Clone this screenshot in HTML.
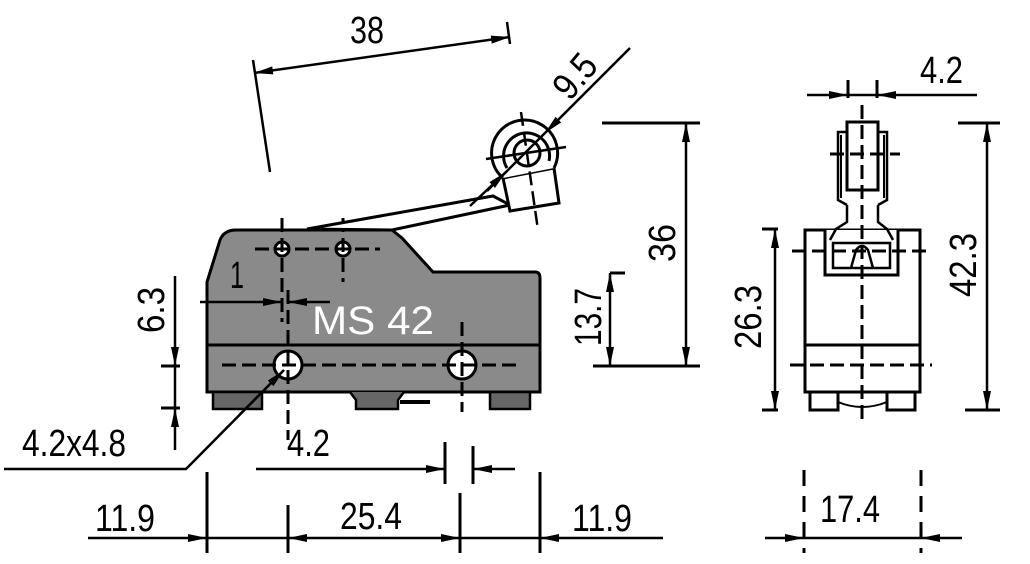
<!DOCTYPE html>
<html><head><meta charset="utf-8"><style>
html,body{margin:0;padding:0;background:#fff;width:1030px;height:564px;overflow:hidden}
svg{display:block}
text{font-family:"Liberation Sans",sans-serif;font-size:38px;fill:#000}
</style></head><body>
<svg width="1030" height="564" viewBox="0 0 1030 564" xmlns="http://www.w3.org/2000/svg">
<defs>
<marker id="a" markerWidth="22" markerHeight="12" refX="19" refY="6" orient="auto-start-reverse" markerUnits="userSpaceOnUse"><path d="M0,2 L19,6 L0,10 Z" fill="#000"/></marker>
</defs>
<g stroke="#000" stroke-width="3" fill="none" stroke-linecap="butt">
<path d="M207,392 L207,282 L220,240 Q224,230 236,230 L392,230 L402,238 L433,272 L535,272 Q540,272 540,278 L540,392 Z" fill="#8a8a8a"/>
<rect x="213" y="392" width="49" height="17" fill="#666" stroke-width="2.5"/>
<path d="M350,392 L356,400 L356,409 L398,409 L398,400 L404,392" fill="#666" stroke-width="2.5"/>
<rect x="490" y="392" width="40" height="17" fill="#666" stroke-width="2.5"/>
<line x1="400" y1="402" x2="430" y2="402" stroke-width="4"/>
<line x1="207" y1="345" x2="540" y2="345"/>
<circle cx="282" cy="249" r="7" fill="#fff"/>
<circle cx="343" cy="249" r="7" fill="#fff"/>
<circle cx="288" cy="365" r="14" fill="#fff"/>
<circle cx="462" cy="365" r="14" fill="#fff"/>
<g stroke-dasharray="14,6">
<line x1="255" y1="249" x2="380" y2="249"/>
<line x1="222" y1="365" x2="522" y2="365"/>
<line x1="282" y1="218" x2="282" y2="322"/>
<line x1="343" y1="218" x2="343" y2="282"/>
<line x1="288" y1="290" x2="288" y2="440"/>
<line x1="462" y1="322" x2="462" y2="412"/>
</g>
<path d="M307,229 L493,196 L510,205 L392,230 Z" fill="#fff" stroke-width="3"/>
<polygon points="503,178 510,211 559,203 554,168" fill="#fff" stroke-width="3"/>
<path d="M503,178 A33,33 0 1 1 554,168" fill="#fff" stroke-width="3"/>
<path d="M507,168 A23,23 0 1 1 549,161" stroke-width="3"/>
<circle cx="527" cy="153" r="13" fill="#fff" stroke-width="3"/>
<line x1="486" y1="159" x2="566" y2="147" stroke-width="2.5"/>
<line x1="521" y1="112" x2="538" y2="230" stroke-width="2.5" stroke-dasharray="14,6"/>
<line x1="630" y1="48" x2="545" y2="133" stroke-width="2.5" marker-end="url(#a)"/>
<line x1="545" y1="133" x2="487" y2="191" stroke-width="2.5"/>
<line x1="470" y1="206" x2="506" y2="172" stroke-width="2.5" marker-end="url(#a)"/>
<line x1="254" y1="73" x2="510" y2="37" stroke-width="2.5" marker-start="url(#a)" marker-end="url(#a)"/>
<line x1="253" y1="60" x2="270" y2="172" stroke-width="2.5"/>
<line x1="507" y1="22" x2="510" y2="44" stroke-width="2.5"/>
<line x1="602" y1="123" x2="700" y2="123"/>
<line x1="593" y1="366" x2="700" y2="366"/>
<line x1="686" y1="123" x2="686" y2="366" stroke-width="2.5" marker-start="url(#a)" marker-end="url(#a)"/>
<line x1="610" y1="273" x2="625" y2="273"/>
<line x1="610" y1="273" x2="610" y2="366" stroke-width="2.5" marker-start="url(#a)" marker-end="url(#a)"/>
<line x1="175" y1="276" x2="175" y2="366" stroke-width="2.5" marker-end="url(#a)"/>
<line x1="175" y1="450" x2="175" y2="408" stroke-width="2.5" marker-end="url(#a)"/>
<line x1="175" y1="366" x2="175" y2="408" stroke-width="2.5"/>
<line x1="161" y1="366" x2="180" y2="366"/>
<line x1="161" y1="408" x2="180" y2="408"/>
<line x1="200" y1="302" x2="282" y2="302" stroke-width="2.5" marker-end="url(#a)"/>
<line x1="330" y1="302" x2="288" y2="302" stroke-width="2.5" marker-end="url(#a)"/>
<polyline points="4,469 186,469 284,370" stroke-width="2.5"/>
<line x1="240" y1="414" x2="284" y2="370" stroke-width="2" marker-end="url(#a)"/>
<line x1="256" y1="469" x2="445" y2="469" stroke-width="2.5" marker-end="url(#a)"/>
<line x1="515" y1="469" x2="473" y2="469" stroke-width="2.5" marker-end="url(#a)"/>
<line x1="445" y1="442" x2="445" y2="484"/>
<line x1="473" y1="446" x2="473" y2="484"/>
<line x1="88" y1="538" x2="207" y2="538" stroke-width="2.5" marker-end="url(#a)"/>
<line x1="207" y1="538" x2="288" y2="538" stroke-width="2.5"/>
<line x1="288" y1="538" x2="460" y2="538" stroke-width="2.5" marker-start="url(#a)" marker-end="url(#a)"/>
<line x1="460" y1="538" x2="540" y2="538" stroke-width="2.5"/>
<line x1="663" y1="538" x2="540" y2="538" stroke-width="2.5" marker-end="url(#a)"/>
<line x1="207" y1="472" x2="207" y2="553"/>
<line x1="288" y1="505" x2="288" y2="553"/>
<line x1="460" y1="493" x2="460" y2="553"/>
<line x1="540" y1="472" x2="540" y2="553"/>
<rect x="805" y="230" width="115" height="162" fill="#fff"/>
<line x1="805" y1="345" x2="920" y2="345"/>
<path d="M825,230 L825,275 L898,275 L898,230" fill="#fff"/>
<path d="M833,243 L833,268 L890,268 L890,243 Z" stroke-width="2.5"/>
<path d="M851,268 L856,250 Q862,242 868,250 L873,268" stroke-width="2.5"/>
<path d="M830,240 L836,229 L847,222 L847,205 M893,240 L887,229 L878,222 L878,205" stroke-width="2.5"/>
<path d="M847,205 L838,200 L838,132 L847,132 M878,205 L887,200 L887,132 L878,132" stroke-width="2.5"/>
<rect x="847" y="122" width="31" height="68" fill="#fff"/>
<line x1="841" y1="135" x2="841" y2="198" stroke-width="2"/>
<line x1="884" y1="135" x2="884" y2="198" stroke-width="2"/>
<rect x="810" y="392" width="28" height="18"/>
<rect x="887" y="392" width="28" height="18"/>
<path d="M838,402 Q862,412 887,402" stroke-width="2"/>
<g stroke-dasharray="14,6">
<line x1="862" y1="105" x2="862" y2="422"/>
<line x1="830" y1="154" x2="900" y2="154"/>
<line x1="792" y1="251" x2="930" y2="251"/>
<line x1="790" y1="365" x2="932" y2="365"/>
</g>
<line x1="807" y1="95" x2="848" y2="95" stroke-width="2.5" marker-end="url(#a)"/>
<line x1="977" y1="95" x2="877" y2="95" stroke-width="2.5" marker-end="url(#a)"/>
<line x1="848" y1="95" x2="877" y2="95" stroke-width="2.5"/>
<line x1="848" y1="80" x2="848" y2="98"/>
<line x1="877" y1="80" x2="877" y2="98"/>
<line x1="958" y1="123" x2="1000" y2="123"/>
<line x1="965" y1="410" x2="1000" y2="410"/>
<line x1="987" y1="123" x2="987" y2="410" stroke-width="2.5" marker-start="url(#a)" marker-end="url(#a)"/>
<line x1="762" y1="229" x2="778" y2="229"/>
<line x1="762" y1="410" x2="778" y2="410"/>
<line x1="775" y1="229" x2="775" y2="410" stroke-width="2.5" marker-start="url(#a)" marker-end="url(#a)"/>
<line x1="765" y1="538" x2="804" y2="538" stroke-width="2.5" marker-end="url(#a)"/>
<line x1="804" y1="538" x2="921" y2="538" stroke-width="2.5"/>
<line x1="962" y1="538" x2="921" y2="538" stroke-width="2.5" marker-end="url(#a)"/>
<g stroke-dasharray="16,10">
<line x1="804" y1="470" x2="804" y2="553"/>
<line x1="921" y1="470" x2="921" y2="553"/>
</g>
</g>
<text x="350" y="43" textLength="34" lengthAdjust="spacingAndGlyphs">38</text>
<text transform="translate(570,102) rotate(-50)" textLength="46" lengthAdjust="spacingAndGlyphs">9.5</text>
<text x="920" y="83" textLength="43" lengthAdjust="spacingAndGlyphs">4.2</text>
<text transform="translate(675,262) rotate(-90)" textLength="38" lengthAdjust="spacingAndGlyphs">36</text>
<text transform="translate(601,346) rotate(-90)" textLength="58" lengthAdjust="spacingAndGlyphs">13.7</text>
<text transform="translate(976,297) rotate(-90)" textLength="64" lengthAdjust="spacingAndGlyphs">42.3</text>
<text transform="translate(761,349) rotate(-90)" textLength="64" lengthAdjust="spacingAndGlyphs">26.3</text>
<text transform="translate(164,333) rotate(-90)" textLength="46" lengthAdjust="spacingAndGlyphs">6.3</text>
<text x="230" y="288" textLength="14" lengthAdjust="spacingAndGlyphs">1</text>
<text x="312" y="334" style="fill:#fff;font-size:40px" textLength="122" lengthAdjust="spacingAndGlyphs">MS 42</text>
<text x="22" y="456" textLength="104" lengthAdjust="spacingAndGlyphs">4.2x4.8</text>
<text x="287" y="456" textLength="43" lengthAdjust="spacingAndGlyphs">4.2</text>
<text x="95" y="531" textLength="60" lengthAdjust="spacingAndGlyphs">11.9</text>
<text x="340" y="529" textLength="62" lengthAdjust="spacingAndGlyphs">25.4</text>
<text x="572" y="531" textLength="60" lengthAdjust="spacingAndGlyphs">11.9</text>
<text x="820" y="522" textLength="60" lengthAdjust="spacingAndGlyphs">17.4</text>
</svg>
</body></html>
